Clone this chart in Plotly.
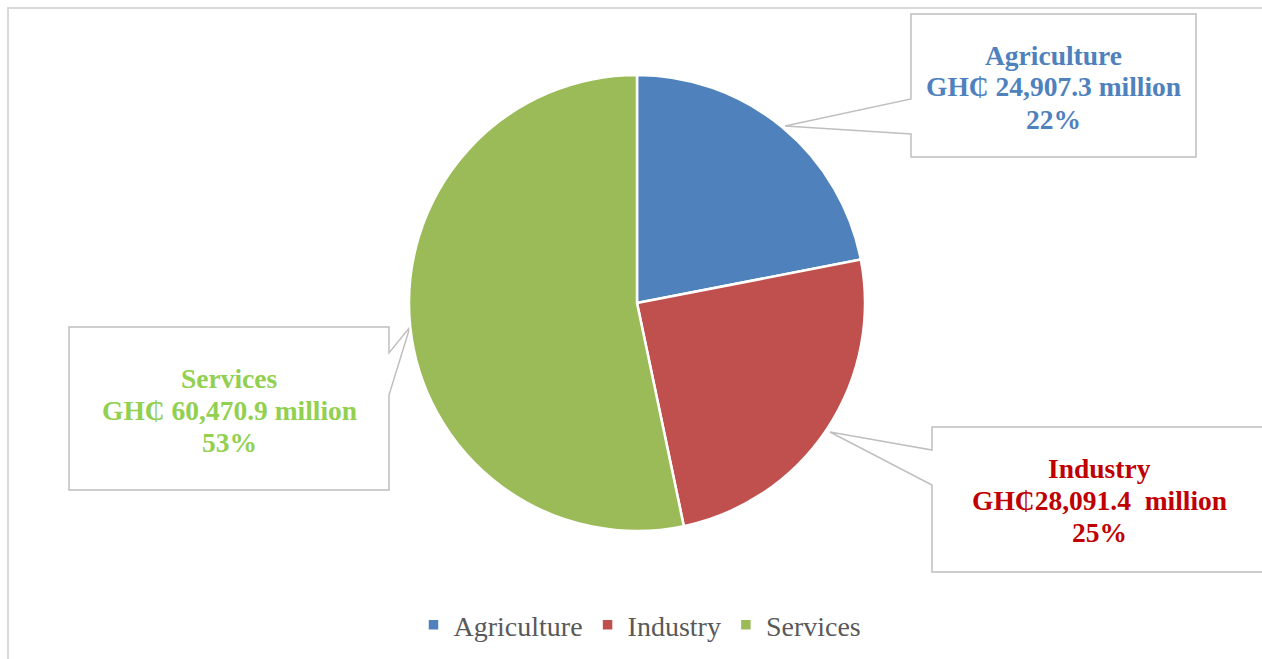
import plotly.graph_objects as go

W, H = 1262, 659

sectors = ["Agriculture", "Industry", "Services"]
values = [24907.3, 28091.4, 60470.9]
slice_colors = ["#4F81BD", "#C0504D", "#9BBB59"]
label_colors = ["#4F81BD", "#C00000", "#92D050"]
value_texts = ["GH\u20b5 24,907.3 million", "GH\u20b528,091.4\u00a0 million", "GH\u20b5 60,470.9 million"]

total = sum(values)
pcts = [round(v / total * 100) for v in values]

def px(x, y):
    return x / W, 1 - y / H

FONT = "Liberation Serif"

fig = go.Figure()
x0, y0 = px(409, 531)
x1, y1 = px(865, 75)
fig.add_trace(go.Pie(
    labels=sectors, values=values, sort=False, direction="clockwise", rotation=0,
    marker=dict(colors=slice_colors, line=dict(color="white", width=2.5)),
    textinfo="none", hoverinfo="label+value+percent",
    domain=dict(x=[x0, x1], y=[y0, y1]),
))

def path(points):
    s = ""
    for i, (x, y) in enumerate(points):
        xp, yp = px(x, y)
        s += ("M" if i == 0 else "L") + f"{xp:.5f},{yp:.5f} "
    return s + "Z"

callouts = [
    [(911, 14), (1196, 14), (1196, 157), (911, 157), (911, 134), (785, 126), (911, 99)],
    [(932, 427), (1290, 427), (1290, 572), (932, 572), (932, 485), (830, 432), (932, 450)],
    [(69, 327), (389, 327), (389, 353), (410, 327), (389, 395), (389, 490), (69, 490)],
]
shapes = []
# outer chart border (top and left visible)
bx0, by0 = px(8, 8)
bx1, by1 = px(1290, 690)
shapes.append(dict(type="rect", xref="paper", yref="paper", x0=bx0, y0=by1, x1=bx1, y1=by0,
                   line=dict(color="#D9D9D9", width=2), fillcolor="rgba(0,0,0,0)", layer="below"))
for pts in callouts:
    shapes.append(dict(type="path", xref="paper", yref="paper", path=path(pts),
                       line=dict(color="#BFBFBF", width=1.5), fillcolor="white", layer="below"))

label_centers = [(1053, 87), (1099, 500), (229, 410)]
annotations = []
for name, vt, p, c, (cx, cy) in zip(sectors, value_texts, pcts, label_colors, label_centers):
    for k, line in enumerate([name, vt, f"{p}%"]):
        ax, ay = px(cx, cy + (k - 1) * 32)
        annotations.append(dict(x=ax, y=ay, xref="paper", yref="paper", showarrow=False,
                                text=f"<b>{line}</b>", xanchor="center", yanchor="middle",
                                font=dict(family=FONT, size=27.5, color=c)))

lx, ly = px(640, 625)
fig.update_layout(
    width=W, height=H, margin=dict(l=0, r=0, t=0, b=0),
    paper_bgcolor="white", plot_bgcolor="white",
    shapes=shapes, annotations=annotations,
    showlegend=True,
    legend=dict(orientation="h", x=lx, xanchor="center", y=ly, yanchor="middle",
                font=dict(family=FONT, size=28, color="#595959"), bgcolor="rgba(0,0,0,0)"),
)

fig.write_html("out.html", config={"displayModeBar": False},
               post_script="document.body.style.margin='0';document.documentElement.style.overflow='hidden';")
